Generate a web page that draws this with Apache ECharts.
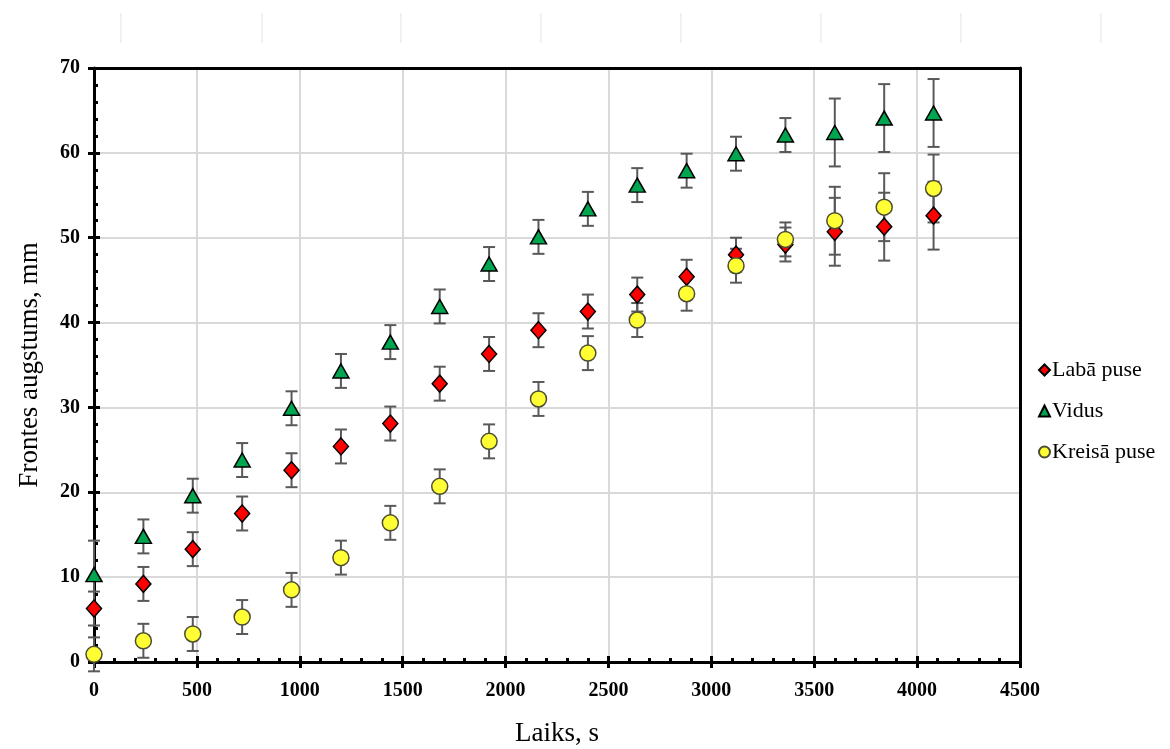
<!DOCTYPE html>
<html>
<head>
<meta charset="utf-8">
<script src="https://cdn.jsdelivr.net/npm/echarts@6/dist/echarts.min.js"></script>
<style>
html,body{margin:0;padding:0;background:#fff;}
#chart{width:1170px;height:749px;}
</style>
</head>
<body>
<div id="chart"></div>
<script>
// ---- data ----
const times = [0,240,480,720,960,1200,1440,1680,1920,2160,2400,2640,2880,3120,3360,3600,3840,4080];
const labaPuse = [6.3,9.2,13.3,17.5,22.6,25.4,28.1,32.8,36.3,39.1,41.3,43.3,45.4,48.0,49.2,50.7,51.3,52.6];
const labaErr  = [2,2,2,2,2,2,2,2,2,2,2,2,2,2,2,4,4,4];
const vidus    = [10.3,14.8,19.6,23.8,29.9,34.3,37.7,41.9,46.9,50.1,53.4,56.2,57.9,59.9,62.1,62.4,64.1,64.7];
const vidusErr = [4,2,2,2,2,2,2,2,2,2,2,2,2,2,2,4,4,4];
const kreisaPuse = [0.9,2.5,3.3,5.3,8.5,12.3,16.4,20.7,26.0,31.0,36.4,40.3,43.4,46.7,49.8,52.0,53.6,55.8];
const kreisaErr  = [2,2,2,2,2,2,2,2,2,2,2,2,2,2,2,4,4,4];
const seriesNames = ['Labā puse','Vidus','Kreisā puse'];
const xTicks = [0,500,1000,1500,2000,2500,3000,3500,4000,4500];
const yTicks = [0,10,20,30,40,50,60,70];

const FONT = '"Liberation Serif","Times New Roman",serif';
const chart = echarts.init(document.getElementById('chart'), null, {renderer:'canvas'});

function pts(vals){ return times.map((t,i)=>[t, vals[i]]); }
function errs(vals, e){ return times.map((t,i)=>[t, vals[i]-e[i], vals[i]+e[i]]); }

function errSeries(vals, e){
  return {
    type:'custom',
    silent:true,
    z:1,
    data: errs(vals,e),
    encode:{x:0,y:[1,2]},
    renderItem: function(params, api){
      const lo = api.coord([api.value(0), api.value(1)]);
      const hi = api.coord([api.value(0), api.value(2)]);
      const w = 6;
      const st = {stroke:'#595959', lineWidth:2};
      return {type:'group', children:[
        {type:'line', shape:{x1:lo[0],y1:lo[1],x2:hi[0],y2:hi[1]}, style:st},
        {type:'line', shape:{x1:lo[0]-w,y1:lo[1],x2:lo[0]+w,y2:lo[1]}, style:st},
        {type:'line', shape:{x1:hi[0]-w,y1:hi[1],x2:hi[0]+w,y2:hi[1]}, style:st}
      ]};
    }
  };
}

const topLines = [121,262,401,541,681,821,961,1101].map(x=>({
  type:'line', silent:true,
  shape:{x1:x,y1:13,x2:x,y2:43},
  style:{stroke:'#e3e3e3', lineWidth:1}
}));

const axisLabelStyle = {fontFamily:FONT, fontWeight:'bold', fontSize:20, color:'#000'};
const xMin = xTicks[0], xMax = xTicks[xTicks.length-1];
const yMin = yTicks[0], yMax = yTicks[yTicks.length-1];

function plainAxis(extra){
  return Object.assign({
    type:'value', axisLabel:{show:false}, splitLine:{show:false},
    axisTick:{show:false}, axisLine:{show:false}
  }, extra);
}

const option = {
  backgroundColor:'#fff',
  animation:false,
  graphic: topLines,
  grid:{left:94, right:150, top:68, bottom:87, containLabel:false, outerBoundsMode:'none'},
  legend:{
    orient:'vertical', left:1033, top:354, itemGap:19, itemWidth:11, itemHeight:11,
    textStyle:{fontFamily:FONT, fontSize:22, color:'#000', padding:[0,0,0,-3]},
    data:[
      {name:seriesNames[0], icon:'diamond'},
      {name:seriesNames[1], icon:'triangle'},
      {name:seriesNames[2], icon:'circle'}
    ]
  },
  xAxis:[{
    type:'value', min:xMin, max:xMax, interval:500,
    name:'Laiks, s', nameLocation:'middle', nameGap:58,
    nameTextStyle:{fontFamily:FONT, fontSize:27, color:'#000'},
    axisLine:{show:true, onZero:false, lineStyle:{color:'#000', width:3}},
    axisTick:{show:true, inside:true, length:6, lineStyle:{color:'#000', width:3}},
    minorTick:{show:true, splitNumber:5, length:4, lineStyle:{color:'#000', width:3}},
    splitLine:{show:true, lineStyle:{color:'#d9d9d9', width:2}},
    axisLabel:Object.assign({margin:19, formatter:v=>String(v)}, axisLabelStyle)
  },
  plainAxis({min:xMin, max:xMax, interval:500, position:'bottom',
    axisTick:{show:true, inside:false, length:6, lineStyle:{color:'#000', width:3}}}),
  plainAxis({min:xMin, max:xMax, interval:500, position:'top',
    axisLine:{show:true, onZero:false, lineStyle:{color:'#000', width:3}}})
  ],
  yAxis:[{
    type:'value', min:yMin, max:yMax, interval:10,
    name:'Frontes augstums, mm', nameLocation:'middle', nameGap:51,
    nameTextStyle:{fontFamily:FONT, fontSize:27, color:'#000'},
    axisLine:{show:true, onZero:false, lineStyle:{color:'#000', width:3}},
    axisTick:{show:true, inside:true, length:6, lineStyle:{color:'#000', width:3}},
    minorTick:{show:true, splitNumber:5, length:4, lineStyle:{color:'#000', width:3}},
    splitLine:{show:true, lineStyle:{color:'#d9d9d9', width:2}},
    axisLabel:Object.assign({margin:14}, axisLabelStyle)
  },
  plainAxis({min:yMin, max:yMax, interval:10, position:'left',
    axisTick:{show:true, inside:false, length:6, lineStyle:{color:'#000', width:3}}}),
  plainAxis({min:yMin, max:yMax, interval:10, position:'right',
    axisLine:{show:true, onZero:false, lineStyle:{color:'#000', width:3}}})
  ],
  series:[
    errSeries(labaPuse, labaErr),
    errSeries(vidus, vidusErr),
    errSeries(kreisaPuse, kreisaErr),
    {name:seriesNames[0], type:'scatter', z:3, symbol:'diamond', symbolSize:[15,17],
     itemStyle:{color:'#ff0000', borderColor:'#000', borderWidth:1.5, opacity:1}, data:pts(labaPuse)},
    {name:seriesNames[1], type:'scatter', z:3, symbol:'triangle', symbolSize:[16,14],
     itemStyle:{color:'#00a550', borderColor:'#000', borderWidth:1.5, opacity:1}, data:pts(vidus)},
    {name:seriesNames[2], type:'scatter', z:3, symbol:'circle', symbolSize:16,
     itemStyle:{color:'#ffff33', borderColor:'#4d4d33', borderWidth:1.5, opacity:1}, data:pts(kreisaPuse)}
  ]
};
chart.setOption(option);
</script>
</body>
</html>
